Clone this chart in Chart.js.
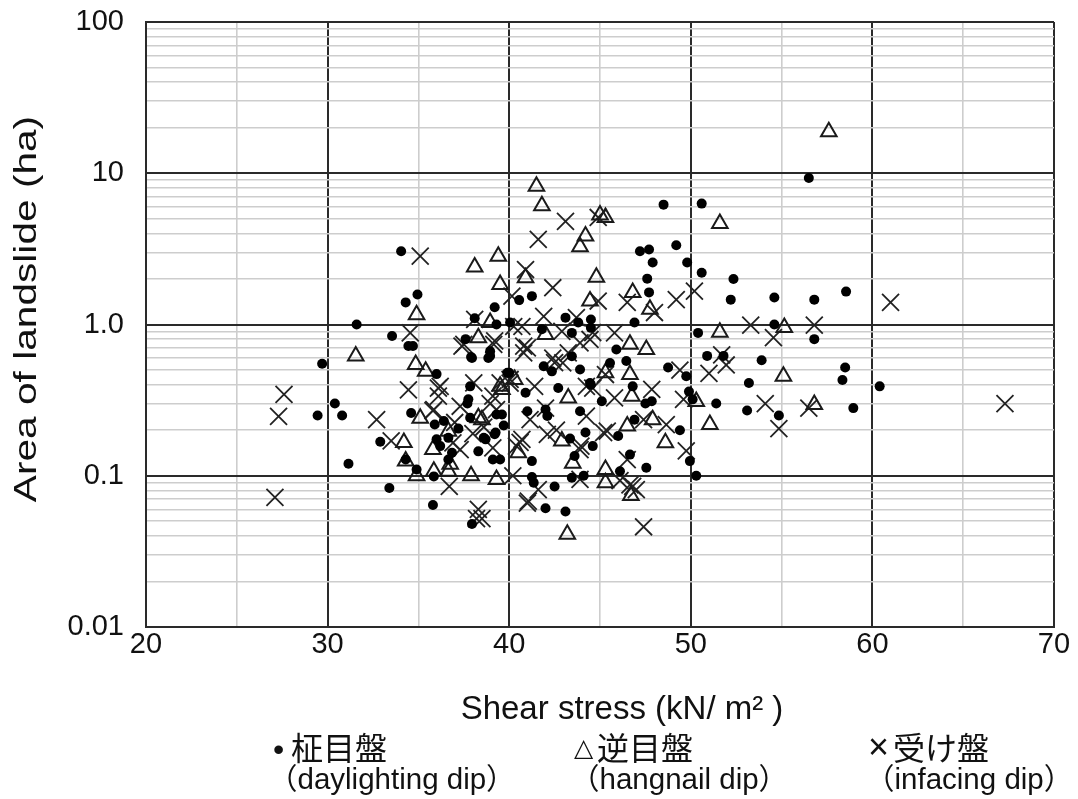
<!DOCTYPE html>
<html>
<head>
<meta charset="utf-8">
<script src="https://cdn.jsdelivr.net/npm/chart.js@4.4.1/dist/chart.umd.min.js"></script>
<style>
  html, body { margin: 0; padding: 0; background: #fff; }
  #wrap { position: relative; width: 1078px; height: 799px; }
  .lg { position: absolute; color: #111; white-space: nowrap; line-height: 1; }
  .cjk { font-family: "Noto Sans CJK JP", "Liberation Sans", sans-serif; font-size: 32px; }
  .mk { font-family: "Liberation Sans", "DejaVu Sans", "Noto Sans CJK JP", sans-serif; }
  .sub { font-family: "Liberation Sans", "Noto Sans CJK JP", sans-serif; font-size: 29.5px; }
</style>
</head>
<body>
<div id="wrap">
  <canvas id="c" width="1078" height="799"></canvas>
  <div class="lg mk" style="left:273px; top:733px; font-size:32px;">•</div>
  <div class="lg cjk" style="left:291px; top:730px;">柾目盤</div>
  <div class="lg sub" style="left:268px; top:764px;">（daylighting dip）</div>
  <div class="lg mk" style="left:574px; top:735px; font-size:25px;">△</div>
  <div class="lg cjk" style="left:597px; top:730px;">逆目盤</div>
  <div class="lg sub" style="left:570px; top:764px;">（hangnail dip）</div>
  <div class="lg mk" style="left:868px; top:729px; font-size:36px;">×</div>
  <div class="lg cjk" style="left:893px; top:730px;">受け盤</div>
  <div class="lg sub" style="left:865px; top:764px;">（infacing dip）</div>
</div>
<script>
// ---- data: [shear stress (kN/m2), area of landslide (ha)] ----
const daylightingDip = [
  [29.45,0.25],[29.7,0.55],[30.4,0.30],[30.8,0.25],[31.15,0.12],[31.6,1.0],[32.9,0.168],[33.4,0.083],[33.55,0.84],
  [34.05,3.05],[34.95,1.58],[34.3,1.40],[34.45,0.72],[34.7,0.72],[34.6,0.26],[34.3,0.128],[34.9,0.11],[35.85,0.099],[35.8,0.064],[37.95,0.048],
  [36.0,0.47],[37.9,0.61],[37.85,0.39],[37.7,0.30],[37.85,0.242],[35.9,0.218],[36.0,0.174],[36.65,0.178],[36.2,0.157],[36.85,0.142],[36.65,0.128],
  [38.1,1.1],[37.6,0.8],[37.95,0.60],[38.95,0.665],[38.85,0.60],[39.2,1.3],[39.3,1.0],[40.05,1.03],[39.9,0.48],[40.9,0.354],[37.75,0.32],[38.7,0.174],
  [39.3,0.254],[39.6,0.254],[39.25,0.193],[39.1,0.128],[39.5,0.128],[38.95,0.62],[38.6,0.178],[39.2,0.188],
  [48.5,6.2],[47.2,3.05],[47.7,3.13],[49.2,3.34],[47.9,2.57],[49.8,2.57],[47.6,2.01],[47.7,1.63],[40.55,1.45],[41.25,1.54],
  [43.1,1.11],[43.8,1.03],[44.5,1.08],[44.5,0.95],[46.9,1.03],[41.8,0.93],[43.45,0.88],[50.4,0.88],[50.6,2.2],[50.6,6.3],
  [45.9,0.684],[45.55,0.557],[46.45,0.573],[43.45,0.617],[41.9,0.53],[42.35,0.49],[43.9,0.504],[42.7,0.38],[44.5,0.40],[46.8,0.39],
  [48.75,0.52],[45.1,0.311],[43.9,0.267],[42.0,0.274],[47.85,0.311],[47.5,0.30],[40.0,0.48],[44.45,0.41],[49.75,0.455],[49.9,0.36],
  [50.1,0.32],[49.4,0.2],[49.95,0.125],[50.3,0.1],[41.0,0.267],[42.1,0.248],[44.2,0.193],[43.35,0.176],[44.6,0.157],[46.0,0.183],
  [41.25,0.125],[43.6,0.135],[44.1,0.1],[43.45,0.097],[42.5,0.085],[41.35,0.09],[41.25,0.098],[42.0,0.061],[43.1,0.058],[46.1,0.107],
  [46.65,0.138],[47.55,0.113],[46.9,0.235],[37.2,0.205],[38.3,0.145],[36.4,0.23],[39.7,0.215],
  [56.5,9.3],[52.35,2.0],[52.2,1.46],[54.6,1.51],[56.8,1.46],[58.55,1.65],[54.6,1.0],[56.8,0.8],[50.9,0.62],[51.8,0.62],
  [53.9,0.58],[53.2,0.41],[51.4,0.30],[53.1,0.27],[54.85,0.25],[58.5,0.52],[58.35,0.43],[60.4,0.39],[58.95,0.28]
];
const hangnailDip = [
  [31.55,0.62],[34.9,1.16],[34.85,0.544],[35.4,0.49],[35.1,0.24],[34.2,0.166],[34.9,0.1],[34.3,0.125],[35.8,0.149],[36.65,0.197],
  [36.75,0.119],[37.9,0.1],[35.85,0.107],[36.65,0.107],[38.3,0.242],[39.3,0.0945],
  [38.1,2.4],[38.3,0.816],[38.95,1.03],[39.6,0.372],[40.3,0.433],[41.5,8.2],[41.8,6.1],[39.4,2.83],[44.2,3.84],[43.9,3.27],
  [45.0,5.3],[45.3,5.1],[39.5,1.84],[40.9,2.04],[44.8,2.05],[44.45,1.43],[46.8,1.63],[47.75,1.26],[42.0,0.86],[46.65,0.74],[47.55,0.684],
  [46.65,0.467],[43.25,0.327],[46.75,0.336],[47.9,0.235],[48.6,0.165],[46.5,0.213],[45.3,0.11],[45.3,0.09],[46.7,0.074],[43.2,0.041],
  [43.5,0.121],[42.9,0.17],[39.5,0.39],[40.5,0.142],[38.5,0.235],[45.3,0.48],
  [57.6,18.8],[51.6,4.65],[51.6,0.89],[55.15,0.955],[55.1,0.455],[51.05,0.218],[56.8,0.296],[50.3,0.31]
];
const infacingDip = [
  [27.6,0.345],[27.3,0.247],[27.1,0.072],[32.7,0.235],[33.5,0.17],[34.45,0.37],[34.55,0.88],[35.1,2.83],[37.5,0.74],[36.2,0.39],
  [35.8,0.27],[36.7,0.085],[37.3,0.149],[38.0,0.19],[36.1,0.38],[36.1,0.336],[37.4,0.72],[38.1,1.08],[39.15,0.74],[41.0,0.70],
  [38.05,0.411],[39.5,0.411],[40.05,0.433],[40.25,0.97],[35.85,0.274],[37.3,0.288],[38.95,0.30],[39.3,0.274],
  [38.3,0.06],[38.2,0.052],[41.05,0.068],[41.6,0.081],[40.2,0.1],[43.9,0.0945],[46.65,0.087],[47.0,0.081],[47.4,0.046],[39.1,0.153],
  [42.1,0.188],[43.95,0.157],[45.2,0.193],[46.5,0.128],[40.6,0.166],
  [43.1,4.8],[41.6,3.65],[40.9,2.31],[42.4,1.75],[40.15,1.54],[44.9,1.43],[46.5,1.40],[48.0,1.2],[49.2,1.46],[50.2,1.66],
  [41.9,1.13],[40.7,0.97],[43.7,1.11],[44.6,0.885],[39.2,0.78],[40.8,0.72],[44.9,5.1],
  [42.9,0.90],[43.9,0.756],[44.45,0.796],[42.4,0.60],[42.95,0.557],[45.3,0.467],[47.85,0.372],[45.8,0.327],[41.4,0.39],[44.6,0.38],[45.8,0.88],
  [40.8,0.65],[42.5,0.56],[43.25,0.65],[40.05,0.41],[44.25,0.39],[49.6,0.32],[49.4,0.5],[39.1,0.336],[42.0,0.28],[41.15,0.235],
  [42.6,0.2],[45.4,0.197],[44.25,0.248],[47.4,0.235],[48.65,0.218],[49.75,0.146],[40.4,0.157],[40.7,0.174],[43.9,0.149],[41.0,0.066],
  [46.1,0.093],[46.8,0.085],[38.5,0.052],[37.0,0.225],[38.6,0.21],[36.9,0.165],
  [61.0,1.4],[53.3,0.99],[56.8,0.99],[54.55,0.82],[51.0,0.475],[51.95,0.54],[51.7,0.63],[54.1,0.30],[54.85,0.205],[56.5,0.28],[67.3,0.30]
];

// ---- axis texts ----
const xTickLabels = ['20', '30', '40', '50', '60', '70'];
const yTickValues = [0.01, 0.1, 1, 10, 100];
const yTickLabels = ['0.01', '0.1', '1.0', '10', '100'];
const xTitle = 'Shear stress (kN/ m² )';
const yTitle = 'Area of landslide (ha)';
const seriesNames = ['柾目盤（daylighting dip）', '逆目盤（hangnail dip）', '受け盤（infacing dip）'];

const toPts = arr => arr.map(p => ({ x: p[0], y: p[1] }));
const isDecade = v => Math.abs(Math.log10(v) - Math.round(Math.log10(v))) < 1e-6;
const MAJOR = '#2a2a2a', MINOR = '#cdcdcd';

// axis titles drawn on the chart canvas (y title stretched to match the wide original lettering)
const axisTitlePlugin = {
  id: 'axisTitles',
  afterDraw(chart) {
    const ctx = chart.ctx;
    ctx.save();
    ctx.fillStyle = '#111';
    ctx.textAlign = 'center';
    ctx.textBaseline = 'middle';
    ctx.font = '33px "Liberation Sans", Arial, sans-serif';
    ctx.fillText(xTitle, 622, 710);
    ctx.translate(27, 309);
    ctx.rotate(-Math.PI / 2);
    ctx.scale(1.27, 1);
    ctx.font = '32px "Liberation Sans", Arial, sans-serif';
    ctx.fillText(yTitle, 0, 0);
    ctx.restore();
  }
};

new Chart(document.getElementById('c'), {
  type: 'scatter',
  data: {
    datasets: [
      { label: seriesNames[0], data: toPts(daylightingDip), pointStyle: 'circle', pointRadius: 5, pointHoverRadius: 5,
        backgroundColor: '#000', borderColor: '#000', borderWidth: 0 },
      { label: seriesNames[1], data: toPts(hangnailDip), pointStyle: 'triangle', pointRadius: 9, pointHoverRadius: 9,
        backgroundColor: 'rgba(0,0,0,0)', borderColor: '#1a1a1a', borderWidth: 2 },
      { label: seriesNames[2], data: toPts(infacingDip), pointStyle: 'crossRot', pointRadius: 12, pointHoverRadius: 12,
        backgroundColor: 'rgba(0,0,0,0)', borderColor: '#222', borderWidth: 1.8 }
    ]
  },
  plugins: [axisTitlePlugin],
  options: {
    responsive: false,
    animation: false,
    devicePixelRatio: 1,
    layout: { padding: { top: 22, right: 24, bottom: 64, left: 0 } },
    plugins: { legend: { display: false }, tooltip: { enabled: false } },
    scales: {
      x: {
        type: 'linear', min: 20, max: 70,
        afterFit: s => { s.height = 108; s.paddingLeft = 0; s.paddingRight = 0; },
        ticks: {
          stepSize: 5, autoSkip: false, maxRotation: 0, padding: 1,
          color: '#111', font: { family: 'Liberation Sans', size: 29 },
          callback: v => { const i = xTickLabels.indexOf(String(v)); return i >= 0 ? xTickLabels[i] : ''; }
        },
        grid: {
          drawTicks: false,
          color: c => (c.tick && c.tick.value % 10 === 0) ? MAJOR : MINOR,
          lineWidth: c => (c.tick && c.tick.value % 10 === 0) ? 2 : 1.6
        },
        border: { display: true, color: MAJOR, width: 2 },
        title: { display: false }
      },
      y: {
        type: 'logarithmic', min: 0.01, max: 100,
        afterFit: s => { s.width = 146; s.paddingTop = 0; s.paddingBottom = 0; },
        afterBuildTicks: s => {
          const t = [];
          for (let e = -2; e <= 1; e++) {
            for (let k = 1; k <= 9; k++) t.push({ value: Number((k * Math.pow(10, e)).toPrecision(3)) });
          }
          t.push({ value: 100 });
          s.ticks = t;
        },
        ticks: {
          autoSkip: false, padding: 22, color: '#111', font: { family: 'Liberation Sans', size: 29 },
          callback: v => { const i = yTickValues.findIndex(t => Math.abs(t - v) < 1e-9); return i >= 0 ? yTickLabels[i] : ''; }
        },
        grid: {
          drawTicks: false,
          color: c => (c.tick && isDecade(c.tick.value)) ? MAJOR : MINOR,
          lineWidth: c => (c.tick && isDecade(c.tick.value)) ? 2 : 1.6
        },
        border: { display: true, color: MAJOR, width: 2 },
        title: { display: false }
      }
    }
  }
});
</script>
</body>
</html>
